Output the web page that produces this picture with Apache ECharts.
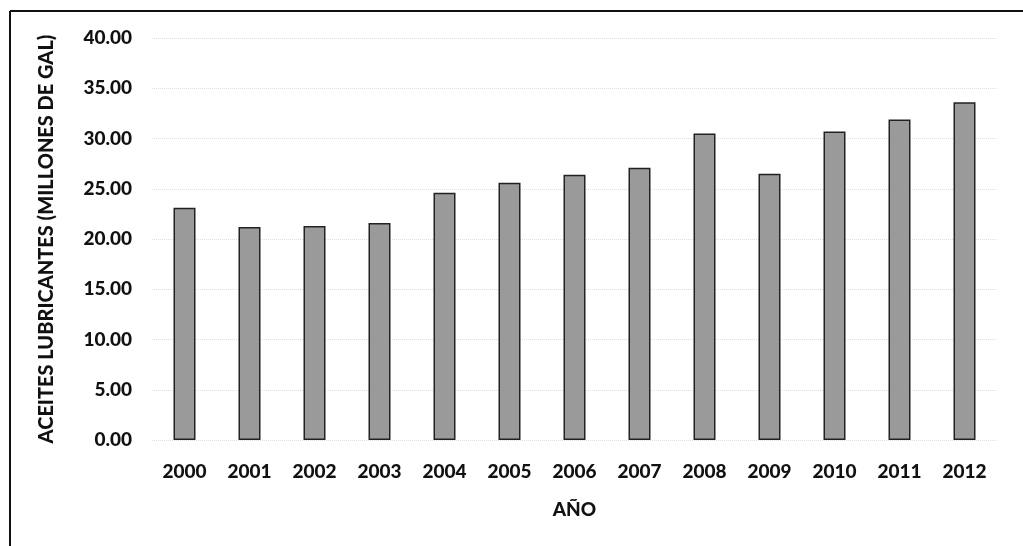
<!DOCTYPE html>
<html>
<head>
<meta charset="utf-8">
<script src="https://cdn.jsdelivr.net/npm/echarts@6/dist/echarts.min.js"></script>
<style>html,body{margin:0;padding:0;background:#fff}#c{width:1023px;height:546px}</style>
</head>
<body>
<div id="c"></div>
<script>
const years = ['2000','2001','2002','2003','2004','2005','2006','2007','2008','2009','2010','2011','2012'];
const aceites = [23.1, 21.2, 21.3, 21.6, 24.6, 25.6, 26.4, 27.1, 30.5, 26.5, 30.7, 31.9, 33.6];
const yTitle = 'ACEITES LUBRICANTES (MILLONES DE GAL)';
const xTitle = 'AÑO';

const chart = echarts.init(document.getElementById('c'), null, {renderer: 'canvas'});
const font = 'Lato, "Open Sans", sans-serif';
chart.setOption({
  animation: false,
  backgroundColor: '#fff',
  grid: {left: 152, right: 26, top: 38, bottom: 106},
  graphic: [
    {type: 'line', shape: {x1: 10, y1: 11, x2: 1023, y2: 11}, style: {stroke: '#111', lineWidth: 2}},
    {type: 'line', shape: {x1: 10, y1: 11, x2: 10, y2: 546}, style: {stroke: '#111', lineWidth: 2}}
  ],
  xAxis: {
    type: 'category',
    data: years,
    name: xTitle,
    nameLocation: 'middle',
    nameGap: 60,
    nameTextStyle: {fontFamily: font, fontWeight: 900, fontSize: 19, color: '#111'},
    axisLine: {show: false},
    axisTick: {show: false},
    axisLabel: {fontFamily: font, fontWeight: 900, fontSize: 19, color: '#111', margin: 22}
  },
  yAxis: {
    type: 'value',
    min: 0, max: 40, interval: 5,
    name: yTitle,
    nameLocation: 'middle',
    nameGap: 95,
    nameTextStyle: {fontFamily: font, fontWeight: 900, fontSize: 20, color: '#111'},
    axisLine: {show: false},
    axisTick: {show: false},
    axisLabel: {fontFamily: font, fontWeight: 900, fontSize: 19, color: '#111', margin: 20,
      formatter: v => v.toFixed(2)},
    splitLine: {show: true, lineStyle: {color: '#e0e0e0', type: 'dotted', width: 1}}
  },
  series: [{
    type: 'bar',
    data: aceites,
    barWidth: 22,
    itemStyle: {color: '#9a9a9a', borderColor: '#222', borderWidth: 1.5}
  }]
});
</script>
</body>
</html>
